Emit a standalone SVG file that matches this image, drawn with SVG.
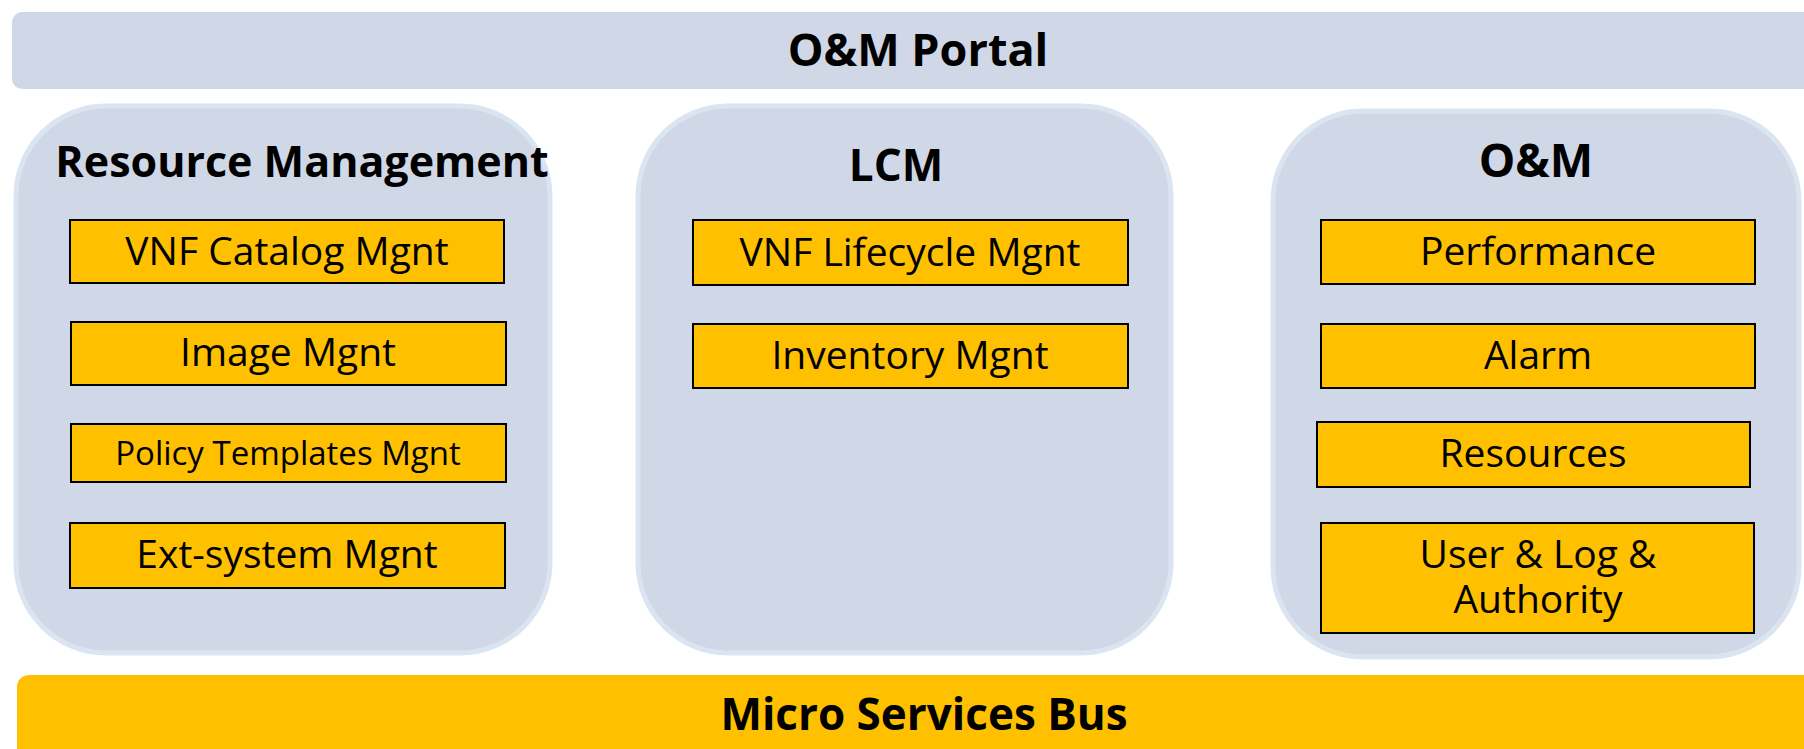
<svg xmlns="http://www.w3.org/2000/svg" width="1804" height="749" viewBox="0 0 1804 749">
<style>
.bar{fill:#d0d8e7}
.cont{fill:#d0d8e7;stroke:#dbe4f1;stroke-width:5}
.box{fill:#ffc000;stroke:#000;stroke-width:2}
.bus{fill:#ffc000}
.title{font-family:"Open Sans","Noto Sans","Liberation Sans",sans-serif;font-weight:bold;fill:#000;text-anchor:middle}
.lbl{font-family:"Open Sans","Noto Sans","Liberation Sans",sans-serif;fill:#000;text-anchor:middle;font-size:39px}
.lbl.small{font-size:33px}
</style>
<rect width="1804" height="749" fill="#ffffff"/>
<g id="portal">
<rect class="bar" x="12" y="12" width="1810" height="77" rx="10"/>
<text class="title" x="918" y="66" font-size="45">O&amp;M Portal</text>
</g>
<g id="resource-management">
<rect class="cont" x="16" y="106" width="534" height="547" rx="90"/>
<text class="title" x="302" y="177" font-size="43">Resource Management</text>
</g>
<g id="vnf-catalog"><rect class="box" x="70" y="220" width="434" height="63"/><text class="lbl" x="287" y="265">VNF Catalog Mgnt</text></g>
<g id="image-mgnt"><rect class="box" x="71" y="322" width="435" height="63"/><text class="lbl" x="288" y="366">Image Mgnt</text></g>
<g id="policy-templates"><rect class="box" x="71" y="424" width="435" height="58"/><text class="lbl small" x="288" y="465">Policy Templates Mgnt</text></g>
<g id="ext-system"><rect class="box" x="70" y="523" width="435" height="65"/><text class="lbl" x="287" y="568">Ext-system Mgnt</text></g>
<g id="lcm">
<rect class="cont" x="638" y="106" width="533" height="547" rx="90"/>
<text class="title" x="896" y="181" font-size="44">LCM</text>
</g>
<g id="vnf-lifecycle"><rect class="box" x="693" y="220" width="435" height="65"/><text class="lbl" x="910" y="266">VNF Lifecycle Mgnt</text></g>
<g id="inventory"><rect class="box" x="693" y="324" width="435" height="64"/><text class="lbl" x="910" y="369">Inventory Mgnt</text></g>
<g id="om">
<rect class="cont" x="1273" y="111" width="526" height="546" rx="90"/>
<text class="title" x="1536" y="177" font-size="46">O&amp;M</text>
</g>
<g id="performance"><rect class="box" x="1321" y="220" width="434" height="64"/><text class="lbl" x="1538" y="265">Performance</text></g>
<g id="alarm"><rect class="box" x="1321" y="324" width="434" height="64"/><text class="lbl" x="1538" y="369">Alarm</text></g>
<g id="resources"><rect class="box" x="1317" y="422" width="433" height="65"/><text class="lbl" x="1533" y="467">Resources</text></g>
<g id="user-log"><rect class="box" x="1321" y="523" width="433" height="110"/><text class="lbl" x="1538" y="568">User &amp; Log &amp;<tspan x="1538" dy="45">Authority</tspan></text></g>
<g id="connectors"></g>
<g id="bus">
<rect class="bus" x="17" y="675" width="1810" height="100" rx="12"/>
<text class="title" x="924" y="730" font-size="44">Micro Services Bus</text>
</g>
</svg>
